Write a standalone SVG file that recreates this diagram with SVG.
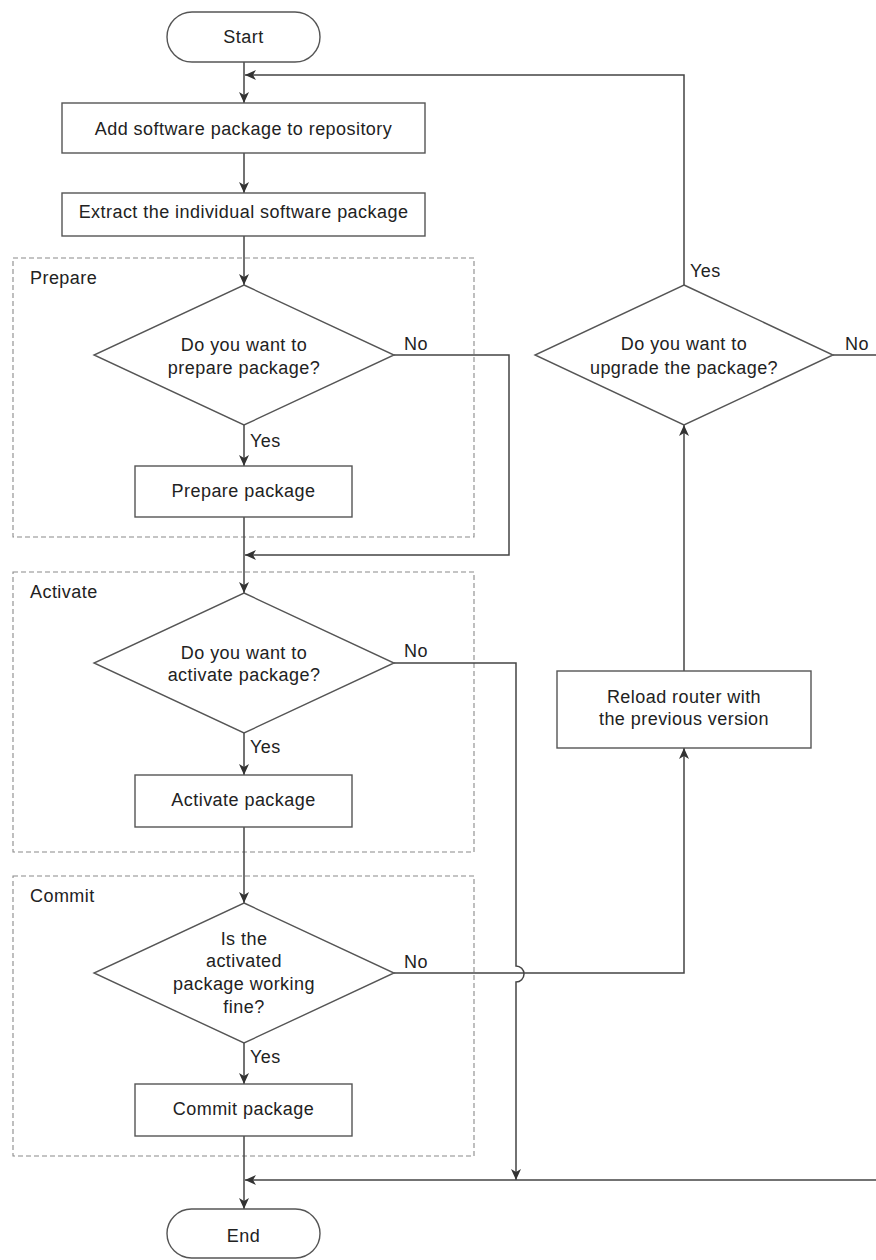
<svg xmlns="http://www.w3.org/2000/svg" width="876" height="1260" viewBox="0 0 876 1260">
<defs>
<marker id="arr" markerUnits="userSpaceOnUse" markerWidth="13" markerHeight="11" refX="11" refY="5" orient="auto">
<path d="M0,0 L11,5 L0,10 L3,5 z" fill="#333"/>
</marker>
<style>
text{font-family:"Liberation Sans",Arial,Helvetica,sans-serif;font-size:18px;fill:#222;letter-spacing:0.45px}
.c{text-anchor:middle}
.shape{fill:#fff;stroke:#555;stroke-width:1.4}
.grp{fill:none;stroke:#8a8a8a;stroke-width:1.1;stroke-dasharray:5,3}
.ln{fill:none;stroke:#444;stroke-width:1.5}
.ar{marker-end:url(#arr)}
</style>
</defs>
<rect width="876" height="1260" fill="#fff"/>

<g id="group-prepare"><rect class="grp" x="13" y="258" width="461" height="279"/><text x="30" y="284">Prepare</text></g>
<g id="group-activate"><rect class="grp" x="13" y="572" width="461" height="280"/><text x="30" y="598">Activate</text></g>
<g id="group-commit"><rect class="grp" x="13" y="876" width="461" height="280"/><text x="30" y="902">Commit</text></g>

<g id="connectors">
<path class="ln ar" d="M244,62 V103"/>
<path class="ln ar" d="M684,285 V75 H245"/>
<path class="ln ar" d="M244,153 V193"/>
<path class="ln ar" d="M244,236 V285"/>
<path class="ln ar" d="M394,355 H509 V555 H245"/>
<path class="ln ar" d="M244,425 V466"/>
<path class="ln ar" d="M244,517 V593"/>
<path class="ln ar" d="M394,663 H516 V966 A8,8 0 0 1 516,982 V1180"/>
<path class="ln ar" d="M244,733 V775"/>
<path class="ln ar" d="M244,827 V903"/>
<path class="ln ar" d="M394,973 H684 V748"/>
<path class="ln ar" d="M244,1043 V1084"/>
<path class="ln ar" d="M244,1136 V1209"/>
<path class="ln ar" d="M876,1180 H245"/>
<path class="ln" d="M833,355 H876"/>
<path class="ln ar" d="M684,671 V425"/>
<text x="404" y="350">No</text>
<text x="250" y="447">Yes</text>
<text x="404" y="657">No</text>
<text x="250" y="753">Yes</text>
<text x="404" y="968">No</text>
<text x="250" y="1063">Yes</text>
<text x="690" y="277">Yes</text>
<text x="845" y="350">No</text>
</g>

<g id="start"><rect class="shape" x="167" y="12" width="153" height="50" rx="25"/><text class="c" x="243.5" y="43">Start</text></g>
<g id="add"><rect class="shape" x="62" y="103" width="363" height="50"/><text class="c" x="243.5" y="135">Add software package to repository</text></g>
<g id="extract"><rect class="shape" x="62" y="193" width="363" height="43"/><text class="c" x="243.5" y="218">Extract the individual software package</text></g>

<g id="q-prepare"><polygon class="shape" points="244,285 394,355 244,425 94,355"/><text class="c" x="244" y="351">Do you want to</text><text class="c" x="244" y="374">prepare package?</text></g>
<g id="prepare"><rect class="shape" x="135" y="466" width="217" height="51"/><text class="c" x="243.5" y="497">Prepare package</text></g>

<g id="q-activate"><polygon class="shape" points="244,593 394,663 244,733 94,663"/><text class="c" x="244" y="659">Do you want to</text><text class="c" x="244" y="681">activate package?</text></g>
<g id="activate"><rect class="shape" x="135" y="775" width="217" height="52"/><text class="c" x="243.5" y="806">Activate package</text></g>

<g id="q-commit"><polygon class="shape" points="244,903 394,973 244,1043 94,973"/><text class="c" x="244" y="945">Is the</text><text class="c" x="244" y="967">activated</text><text class="c" x="244" y="990">package working</text><text class="c" x="244" y="1013">fine?</text></g>
<g id="commit"><rect class="shape" x="135" y="1084" width="217" height="52"/><text class="c" x="243.5" y="1115">Commit package</text></g>

<g id="end"><rect class="shape" x="167" y="1209" width="153" height="49" rx="24.5"/><text class="c" x="243.5" y="1242">End</text></g>

<g id="q-upgrade"><polygon class="shape" points="684,285 833,355 684,425 535,355"/><text class="c" x="684" y="350">Do you want to</text><text class="c" x="684" y="374">upgrade the package?</text></g>
<g id="reload"><rect class="shape" x="557" y="671" width="254" height="77"/><text class="c" x="684" y="703">Reload router with</text><text class="c" x="684" y="725">the previous version</text></g>
</svg>
